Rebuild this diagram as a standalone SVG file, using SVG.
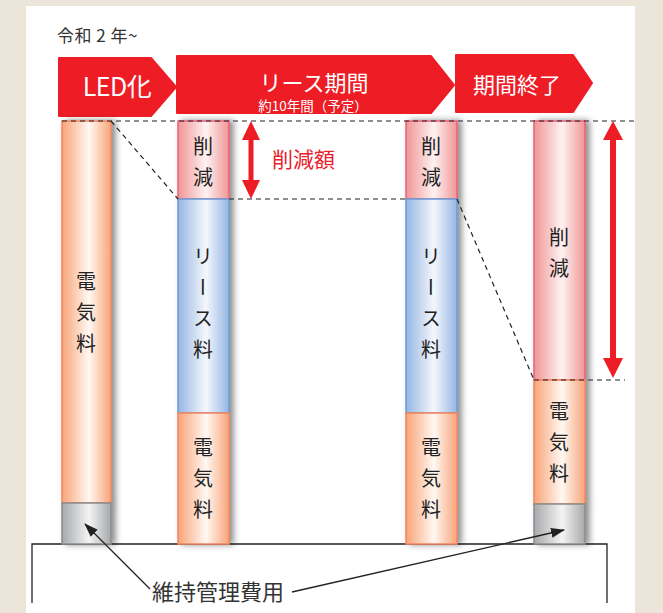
<svg xmlns="http://www.w3.org/2000/svg" width="663" height="613" viewBox="0 0 663 613">
<defs>
<style>
.jp{font-family:"Noto Sans CJK JP","Noto Sans",sans-serif}
.vlabel{font-family:"Noto Sans CJK JP",sans-serif;font-size:20px;fill:#222;writing-mode:vertical-rl;text-anchor:middle;letter-spacing:11px}
.banner{fill:#ee1c25;stroke:#ee1c25;stroke-width:2;stroke-linejoin:round}
.btext{font-family:"Noto Sans CJK JP",sans-serif;fill:#fff;text-anchor:middle}
.dash{fill:none;stroke:#222;stroke-width:1.2;stroke-dasharray:5 4}
.orange{fill:url(#gOrange);stroke:#f3845f;stroke-width:1.5}
.pink{fill:url(#gPink);stroke:#ea5f7b;stroke-width:1.5}
.blue{fill:url(#gBlue);stroke:#6a9bd6;stroke-width:1.5}
.gray{fill:url(#gGray);stroke:#8a8a8a;stroke-width:1.5}
.red{fill:#ee1c25}
.leader{fill:none;stroke:#222;stroke-width:1.3}
</style>
<linearGradient id="gOrange" x1="0" x2="1" y1="0" y2="0">
<stop offset="0" stop-color="#f8a479"/><stop offset="0.55" stop-color="#fff8f2"/><stop offset="1" stop-color="#f8a479"/>
</linearGradient>
<linearGradient id="gPink" x1="0" x2="1" y1="0" y2="0">
<stop offset="0" stop-color="#f09595"/><stop offset="0.55" stop-color="#fff2f2"/><stop offset="1" stop-color="#f09595"/>
</linearGradient>
<linearGradient id="gBlue" x1="0" x2="1" y1="0" y2="0">
<stop offset="0" stop-color="#96b6e4"/><stop offset="0.55" stop-color="#f4f7fc"/><stop offset="1" stop-color="#96b6e4"/>
</linearGradient>
<linearGradient id="gGray" x1="0" x2="1" y1="0" y2="0">
<stop offset="0" stop-color="#a6a8ab"/><stop offset="0.55" stop-color="#f4f4f4"/><stop offset="1" stop-color="#a6a8ab"/>
</linearGradient>
<filter id="shadow" x="-30%" y="-5%" width="160%" height="110%">
<feGaussianBlur in="SourceAlpha" stdDeviation="3"/>
<feOffset dx="4" dy="0" result="b"/>
<feComponentTransfer><feFuncA type="linear" slope="0.45"/></feComponentTransfer>
<feMerge><feMergeNode/><feMergeNode in="SourceGraphic"/></feMerge>
</filter>
<marker id="ah" viewBox="0 0 14 10" refX="13" refY="5" markerWidth="14" markerHeight="10" markerUnits="userSpaceOnUse" orient="auto">
<path d="M0,0 L14,5 L0,10 Z" fill="#222"/>
</marker>
</defs>

<rect x="0" y="0" width="663" height="613" fill="#ebe5da"/>
<rect x="26" y="6" width="609" height="607" fill="#fff"/>

<text class="jp" x="57" y="42" font-size="17" fill="#333" letter-spacing="0.5">令和 2 年~</text>

<g id="banner-led">
<polygon class="banner" points="59,58 151,58 176,87 151,116 59,116"/>
<text class="btext" x="117" y="96" font-size="25" letter-spacing="-0.5">LED化</text>
</g>
<g id="banner-lease">
<polygon class="banner" points="177,56 431,56 454,85 431,113 177,113"/>
<text class="btext" x="314" y="91" font-size="22">リース期間</text>
<text class="btext" x="313" y="111" font-size="13.5">約10年間（予定）</text>
</g>
<g id="banner-end">
<polygon class="banner" points="456,55 573,55 592,83 573,112 456,112"/>
<text class="btext" x="517" y="93" font-size="22">期間終了</text>
</g>

<g id="bottom-box">
<path d="M32,603 V544 H607 V603" fill="none" stroke="#222" stroke-width="1.3"/>
</g>

<g id="col-led" filter="url(#shadow)">
<rect class="orange" x="62" y="121" width="49" height="382"/>
<rect class="gray" x="62" y="503" width="49" height="41"/>
</g>
<text class="vlabel" x="86" y="318">電気料</text>

<g id="col-lease-start" filter="url(#shadow)">
<rect class="pink" x="178" y="121" width="51" height="78"/>
<rect class="blue" x="178" y="199" width="51" height="214"/>
<rect class="orange" x="178" y="413" width="51" height="131"/>
</g>
<text class="vlabel" x="203" y="167">削減</text>
<text class="vlabel" x="203" y="308">リース料</text>
<text class="vlabel" x="203" y="484">電気料</text>

<g id="col-lease-end" filter="url(#shadow)">
<rect class="pink" x="406" y="121" width="51" height="78"/>
<rect class="blue" x="406" y="199" width="51" height="214"/>
<rect class="orange" x="406" y="413" width="51" height="131"/>
</g>
<text class="vlabel" x="431" y="167">削減</text>
<text class="vlabel" x="431" y="308">リース料</text>
<text class="vlabel" x="431" y="484">電気料</text>

<g id="col-after" filter="url(#shadow)">
<rect class="pink" x="534" y="121" width="51" height="259"/>
<rect class="orange" x="534" y="380" width="51" height="124"/>
<rect class="gray" x="534" y="504" width="51" height="40"/>
</g>
<text class="vlabel" x="559" y="258">削減</text>
<text class="vlabel" x="559" y="448">電気料</text>

<g id="connectors">
<line class="dash" x1="62" y1="121" x2="634" y2="121"/>
<line class="dash" x1="229" y1="199" x2="406" y2="199"/>
<line class="dash" x1="111" y1="121" x2="178" y2="199"/>
<line class="dash" x1="457" y1="199" x2="534" y2="380"/>
<line class="dash" x1="534" y1="380" x2="625" y2="380"/>
<path class="red" d="M251,121 L260,140 L253.5,140 L253.5,180 L260,180 L251,199 L242,180 L248.5,180 L248.5,140 L242,140 Z"/>
<path class="red" d="M613,121 L623,140 L616,140 L616,358 L623,358 L613,378 L603,358 L610,358 L610,140 L603,140 Z"/>
<polyline class="leader" points="150,589 85,524" marker-end="url(#ah)"/>
<line class="leader" x1="292" y1="592" x2="564" y2="530" marker-end="url(#ah)"/>
</g>

<text class="jp" x="272" y="167" font-size="21" fill="#e8212b">削減額</text>
<text class="jp" x="152" y="600" font-size="22" fill="#333">維持管理費用</text>
</svg>
